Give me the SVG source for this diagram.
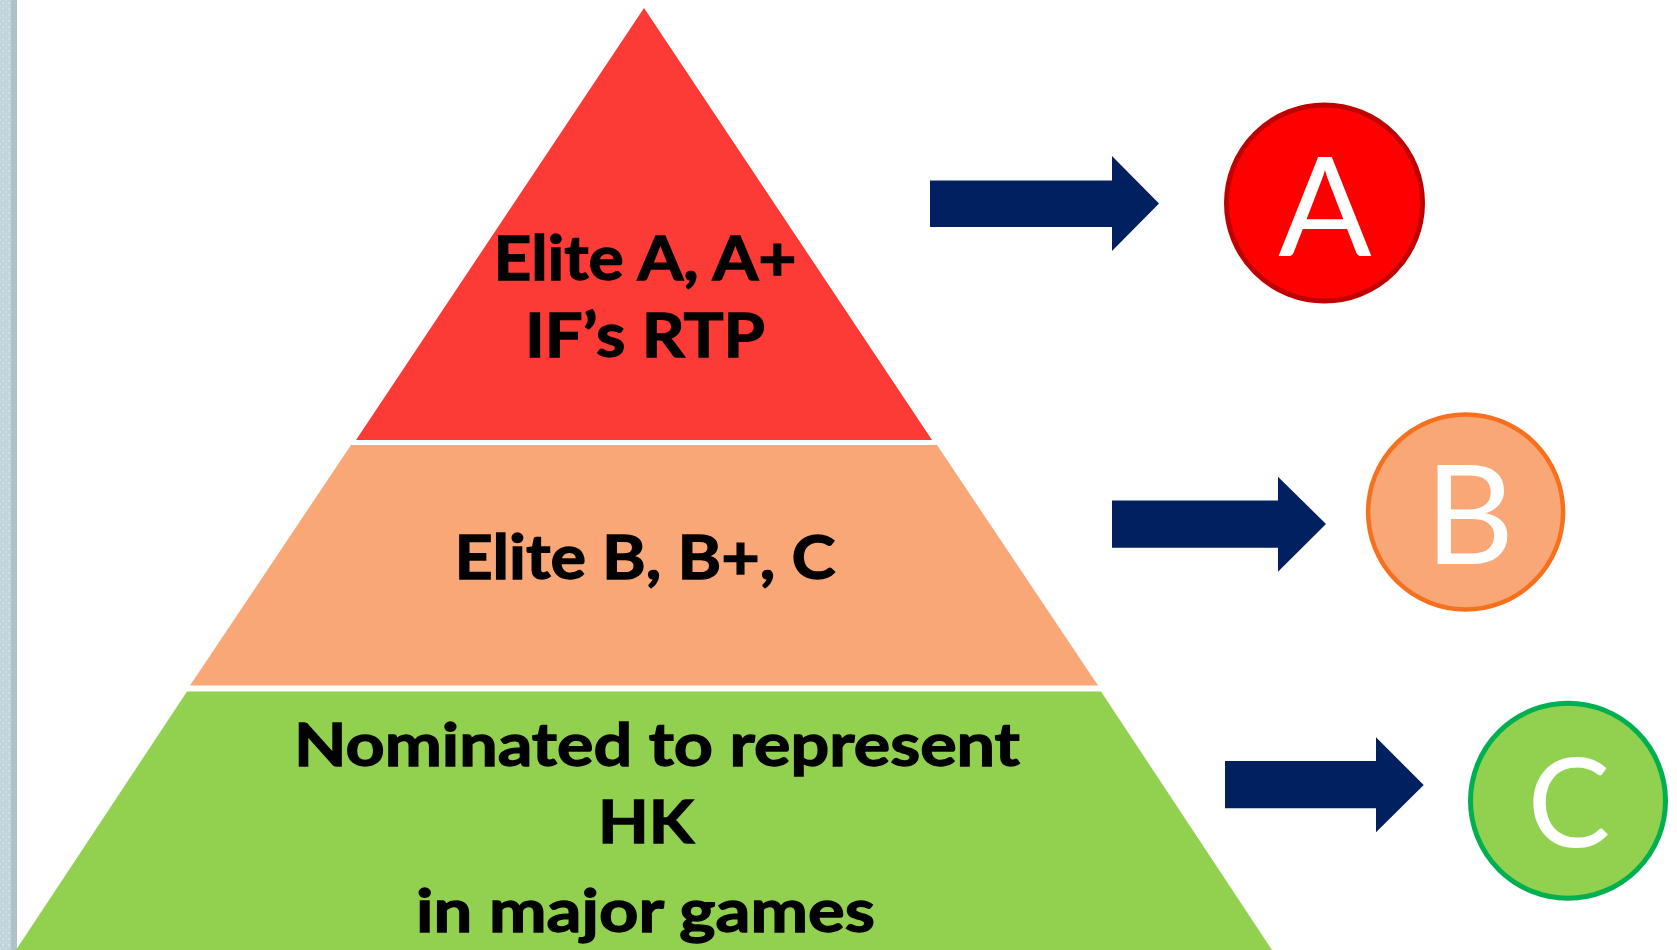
<svg xmlns="http://www.w3.org/2000/svg" width="1677" height="950" viewBox="0 0 1677 950">
  <defs>
    <pattern id="strip" x="0" y="0" width="6" height="6" patternUnits="userSpaceOnUse">
      <rect width="6" height="6" fill="#CCDEE3"/>
      <rect x="1" y="1" width="4" height="4" fill="none" stroke="#B3C8CE" stroke-width="0.8"/>
    </pattern>
    <style>
      .lbl { font-family: "Lato", "Open Sans", "Liberation Sans", sans-serif; font-weight: 700; fill: #000; stroke: #000; stroke-width: 1.3; text-anchor: middle; }
      .big { font-family: "Lato", "Open Sans", "Liberation Sans", sans-serif; font-weight: 400; fill: #FFFFFF; text-anchor: middle; }
      .arrow { fill: #002060; }
    </style>
  </defs>
  <rect width="1677" height="950" fill="#FFFFFF"/>
  <g id="left-strip">
    <rect x="0" y="0" width="17" height="950" fill="url(#strip)"/>
    <rect x="11" y="0" width="6" height="950" fill="#A9BEC4" opacity="0.85"/>
  </g>
  <g id="layer-top">
    <polygon points="644,8 356,440 932,440" fill="#FC3A36"/>
    <text class="lbl" x="645" y="280" font-size="62" textLength="303" lengthAdjust="spacingAndGlyphs">Elite A, A+</text>
    <text class="lbl" x="645" y="357" font-size="62" textLength="240" lengthAdjust="spacingAndGlyphs">IF’s RTP</text>
  </g>
  <g id="layer-middle">
    <polygon points="351,445 937,445 1098,685.5 190,685.5" fill="#F9A776"/>
    <text class="lbl" x="645" y="579" font-size="62" textLength="381" lengthAdjust="spacingAndGlyphs">Elite B, B+, C</text>
  </g>
  <g id="layer-bottom">
    <polygon points="187,691.5 1101,691.5 1272,950 16,950" fill="#92D050"/>
    <text class="lbl" x="657" y="765.7" font-size="60" textLength="726" lengthAdjust="spacingAndGlyphs">Nominated to represent</text>
    <text class="lbl" x="646" y="842.7" font-size="60" textLength="96" lengthAdjust="spacingAndGlyphs">HK</text>
    <text class="lbl" x="645.5" y="931.7" font-size="60" textLength="459" lengthAdjust="spacingAndGlyphs">in major games</text>
  </g>
  <g id="connectors">
    <polygon class="arrow" points="930,180.5 1112,180.5 1112,156 1159,203.5 1112,251 1112,227 930,227"/>
    <polygon class="arrow" points="1112,500.5 1278,500.5 1278,476.7 1326,524 1278,571.7 1278,547.7 1112,547.7"/>
    <polygon class="arrow" points="1225,761 1376,761 1376,737.3 1423.7,785 1376,832.3 1376,808.3 1225,808.3"/>
  </g>
  <g id="circle-a">
    <circle cx="1324.5" cy="203" r="98" fill="#FF0000" stroke="#C00000" stroke-width="5"/>
    <text class="big" x="1325" y="255.7" font-size="138">A</text>
  </g>
  <g id="circle-b">
    <circle cx="1465.6" cy="512" r="97.5" fill="#F9A776" stroke="#F7701E" stroke-width="4.5"/>
    <text class="big" x="1469.7" y="564.3" font-size="138">B</text>
  </g>
  <g id="circle-c">
    <circle cx="1568" cy="800.7" r="97.5" fill="#92D050" stroke="#00B050" stroke-width="5"/>
    <text class="big" x="1569" y="847" font-size="124">C</text>
  </g>
</svg>
